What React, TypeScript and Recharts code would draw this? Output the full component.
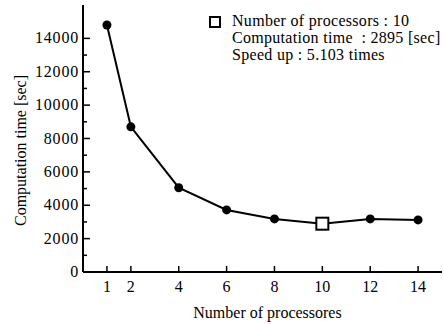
import { LineChart, Line, XAxis, YAxis, Label } from "recharts"

const processors = [1, 2, 4, 6, 8, 10, 12, 14]
const computationTime = [14800, 8700, 5050, 3720, 3180, 2895, 3180, 3120]
const xTicks = [1, 2, 4, 6, 8, 10, 12, 14]
const yTicks = [0, 1000, 2000, 3000, 4000, 5000, 6000, 7000, 8000, 9000, 10000, 11000, 12000, 13000, 14000]
const bestIndex = 5
const legendLines = [
  "Number of processors : 10",
  "Computation time  : 2895 [sec]",
  "Speed up : 5.103 times",
]

const data = processors.map((p, i) => ({ p, t: computationTime[i] }))

const FONT = "'Liberation Serif', 'Times New Roman', serif"

function YTick(props: any) {
  const { x, y, payload } = props
  const major = payload.value % 2000 === 0
  const ax = x + 5
  return (
    <g>
      <line x1={ax} x2={ax + (major ? 7 : 4)} y1={y} y2={y} stroke="#000" strokeWidth={1.5} />
      {major && (
        <text x={x + 1} y={y} dy={5} textAnchor="end" fontFamily={FONT} fontSize={16} letterSpacing={0.8} fill="#000">
          {payload.value}
        </text>
      )}
    </g>
  )
}

function XTick(props: any) {
  const { x, y, payload } = props
  const ay = y - 6
  return (
    <g>
      <line x1={x} x2={x} y1={ay} y2={ay - 6} stroke="#000" strokeWidth={1.5} />
      <text x={x} y={y} dy={14} textAnchor="middle" fontFamily={FONT} fontSize={16} fill="#000">
        {payload.value}
      </text>
    </g>
  )
}

function Dot(props: any) {
  const { cx, cy, index } = props
  if (index === bestIndex) {
    return <rect key={index} x={cx - 6} y={cy - 6} width={12} height={12} fill="#fff" stroke="#000" strokeWidth={2} />
  }
  return <circle key={index} cx={cx} cy={cy} r={4.5} fill="#000" />
}

function InfoBox() {
  return (
    <div
      style={{
        position: "absolute",
        left: 232,
        top: 12,
        fontFamily: FONT,
        fontSize: 16,
        letterSpacing: 0.3,
        color: "#000",
        lineHeight: "17px",
      }}
    >
      <div
        style={{
          position: "absolute",
          left: -23,
          top: 4,
          width: 8,
          height: 8,
          border: "2px solid #000",
          background: "#fff",
        }}
      />
      {legendLines.map((l) => (
        <div key={l} style={{ whiteSpace: "pre" }}>{l}</div>
      ))}
    </div>
  )
}

export default function App() {
  return (
    <div style={{ position: "absolute", left: 0, top: 0, width: 444, height: 325, background: "#fff" }}>
      <LineChart width={444} height={325} data={data} margin={{ top: 5, right: 2, left: 0, bottom: 0 }}>
        <XAxis
          dataKey="p"
          type="number"
          domain={[0, 15]}
          ticks={xTicks}
          height={53}
          tickLine={false}
          tickSize={0}
          tickMargin={6}
          tick={<XTick />}
          axisLine={{ stroke: "#000", strokeWidth: 2 }}
        >
          <Label
            content={({ viewBox }: any) => (
              <text
                x={viewBox.x + viewBox.width / 2 + 5}
                y={viewBox.y + 46}
                textAnchor="middle"
                fontFamily={FONT}
                fontSize={16}
                fill="#000"
              >
                Number of processores
              </text>
            )}
          />
        </XAxis>
        <XAxis xAxisId="top" orientation="top" type="number" domain={[0, 15]} height={0} tick={false} tickLine={false} axisLine={{ stroke: "#000", strokeWidth: 1.5 }} />
        <YAxis
          type="number"
          domain={[0, 16000]}
          ticks={yTicks}
          width={83}
          interval={0}
          tickLine={false}
          tickSize={0}
          tickMargin={5}
          tick={<YTick />}
          axisLine={{ stroke: "#000", strokeWidth: 2 }}
        >
          <Label
            content={({ viewBox }: any) => {
              const cx = viewBox.x + 20
              const cy = viewBox.y + viewBox.height / 2 + 12
              return (
                <text
                  x={cx}
                  y={cy}
                  transform={`rotate(-90 ${cx} ${cy})`}
                  textAnchor="middle"
                  dominantBaseline="central"
                  fontFamily={FONT}
                  fontSize={16}
                  fill="#000"
                >
                  Computation time [sec]
                </text>
              )
            }}
          />
        </YAxis>
        <YAxis yAxisId="right" orientation="right" type="number" domain={[0, 16000]} width={0} tick={false} tickLine={false} axisLine={{ stroke: "#000", strokeWidth: 1.5 }} />
        <Line
          type="linear"
          dataKey="t"
          stroke="#000"
          strokeWidth={2}
          dot={<Dot />}
          activeDot={false}
          isAnimationActive={false}
        />
      </LineChart>
      <InfoBox />
    </div>
  )
}
